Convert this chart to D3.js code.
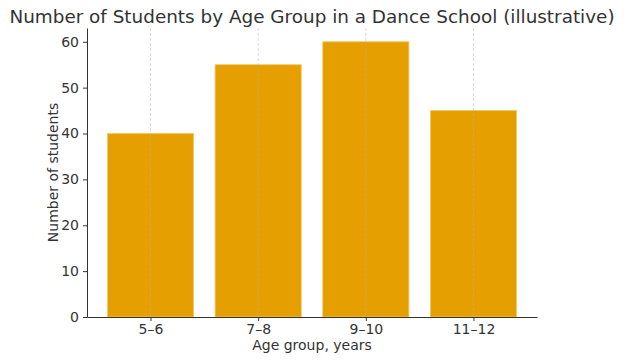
<!DOCTYPE html>
<html><head><meta charset="utf-8">
<script src="https://cdn.jsdelivr.net/npm/d3@7"></script>
<style>body{margin:0;background:#fff}text{font-family:"DejaVu Sans",sans-serif;fill:#333}</style>
</head><body>
<svg id="c" width="624" height="361"></svg>
<script>
const categories = ["5–6", "7–8", "9–10", "11–12"];
const students = [40, 55, 60, 45];
const yTicks = [0, 10, 20, 30, 40, 50, 60];

const W = 624, H = 361;
const m = {left: 87, right: 87, top: 28, bottom: 44};
const svg = d3.select("#c");
const iw = W - m.left - m.right, ih = H - m.top - m.bottom;
const g = svg.append("g").attr("transform", `translate(${m.left},${m.top})`);

const x = d3.scaleLinear().domain([-0.59, 3.59]).range([0, iw]);
const y = d3.scaleLinear().domain([0, 63]).range([ih, 0]);

g.selectAll("rect.bar").data(students).enter().append("rect")
  .attr("class", "bar")
  .attr("x", (d, i) => x(i - 0.4))
  .attr("width", x(0.8) - x(0))
  .attr("y", d => y(d))
  .attr("height", d => ih - y(d))
  .attr("fill", "#E69F00")
  .attr("stroke", "#f2c766").attr("stroke-width", 0.8);

// vertical grid lines
g.selectAll("line.grid").data(categories).enter().append("line")
  .attr("x1", (d, i) => x(i)).attr("x2", (d, i) => x(i))
  .attr("y1", 0).attr("y2", ih)
  .attr("stroke", "#b0b0b0").attr("stroke-opacity", 0.6)
  .attr("stroke-width", 0.8).attr("stroke-dasharray", "3,2");

const xAxis = g.append("g").attr("transform", `translate(0,${ih})`)
  .call(d3.axisBottom(x).tickValues(categories.map((d, i) => i))
    .tickFormat(i => categories[i]).tickSize(4).tickPadding(3).tickSizeOuter(0));
const yAxis = g.append("g")
  .call(d3.axisLeft(y).tickValues(yTicks).tickSize(4).tickPadding(4).tickSizeOuter(0));
[xAxis, yAxis].forEach(a => {
  a.select(".domain").attr("stroke", "#333").attr("stroke-width", 1);
  a.selectAll(".tick line").attr("stroke", "#333");
  a.selectAll(".tick text").attr("font-size", 14).attr("fill", "#333")
    .style("font-family", '"DejaVu Sans", sans-serif');
});

svg.append("text").attr("x", W / 2).attr("y", 23).attr("text-anchor", "middle")
  .attr("font-size", 18.4).text("Number of Students by Age Group in a Dance School (illustrative)");
svg.append("text").attr("x", m.left + iw / 2).attr("y", 350).attr("text-anchor", "middle")
  .attr("font-size", 14).text("Age group, years");
svg.append("text").attr("transform", `translate(58,${m.top + ih / 2}) rotate(-90)`)
  .attr("text-anchor", "middle").attr("font-size", 14).text("Number of students");
</script>
</body></html>
